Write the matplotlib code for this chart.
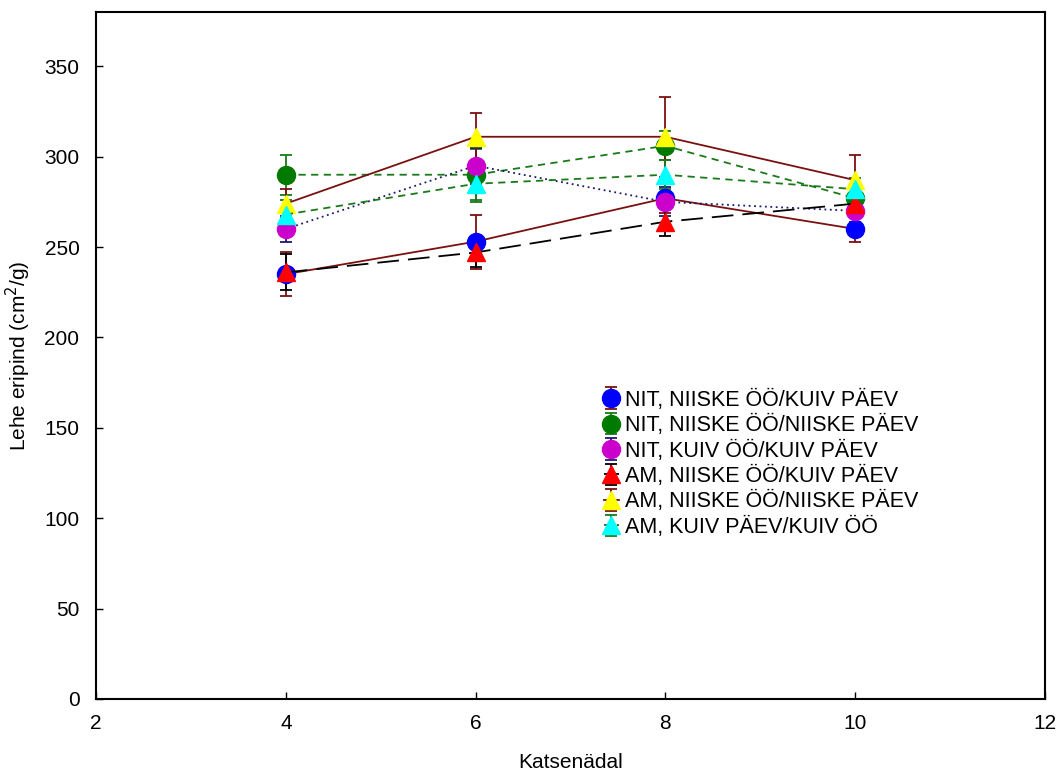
import matplotlib.pyplot as plt

plt.rcParams['font.family'] = ['Liberation Sans', 'DejaVu Sans']

weeks = [4, 6, 8, 10]

labels = ['NIT, NIISKE ÖÖ/KUIV PÄEV',
          'NIT, NIISKE ÖÖ/NIISKE PÄEV',
          'NIT, KUIV ÖÖ/KUIV PÄEV',
          'AM, NIISKE ÖÖ/KUIV PÄEV',
          'AM, NIISKE ÖÖ/NIISKE PÄEV',
          'AM, KUIV PÄEV/KUIV ÖÖ']

nit_niiske_kuiv = [235, 253, 277, 260]
nit_niiske_niiske = [290, 290, 306, 277]
nit_kuiv_kuiv = [260, 295, 275, 270]
am_niiske_kuiv = [236, 247, 264, 274]
am_niiske_niiske = [274, 311, 311, 287]
am_kuiv_kuiv = [268, 285, 290, 282]

err_nit_niiske_kuiv = [12, 15, 8, 7]
err_nit_niiske_niiske = [11, 14, 8, 8]
err_nit_kuiv_kuiv = [7, 10, 8, 6]
err_am_niiske_kuiv = [10, 8, 8, 6]
err_am_niiske_niiske = [8, 13, 22, 14]
err_am_kuiv_kuiv = [8, 10, 8, 6]

series = [nit_niiske_kuiv, nit_niiske_niiske, nit_kuiv_kuiv,
          am_niiske_kuiv, am_niiske_niiske, am_kuiv_kuiv]
errors = [err_nit_niiske_kuiv, err_nit_niiske_niiske, err_nit_kuiv_kuiv,
          err_am_niiske_kuiv, err_am_niiske_niiske, err_am_kuiv_kuiv]

# line colour, style, marker, marker colour
styles = [
    ('#7b1010', '-', 'o', '#0000ff'),
    ('#1a7a1a', (0, (4, 3)), 'o', '#007a00'),
    ('#1a1a6e', (0, (1, 2)), 'o', '#cc00cc'),
    ('#000000', (0, (12, 5)), '^', '#ff0000'),
    ('#7b1010', '-', '^', '#ffff00'),
    ('#1a7a1a', (0, (4, 3)), '^', '#00ffff'),
]

fig = plt.figure(figsize=(10.59, 7.71), dpi=100)
ax = fig.add_axes([0.0907, 0.0934, 0.896, 0.891])

for vals, err, lab, (lc, ls, mk, mc) in zip(series, errors, labels, styles):
    ax.errorbar(weeks, vals, yerr=err, color=lc, linestyle=ls, linewidth=1.3,
                marker=mk, markersize=13, markerfacecolor=mc,
                markeredgecolor=mc, ecolor=lc, elinewidth=1.3,
                capsize=4, capthick=1.3, label=lab)

ax.set_xlim(2, 12)
ax.set_ylim(0, 380)
ax.set_xticks([2, 4, 6, 8, 10, 12])
ax.set_yticks(range(0, 351, 50))
ax.tick_params(direction='in', length=5, labelsize=15, width=1)
ax.tick_params(axis='x', pad=11)
ax.tick_params(axis='y', pad=12)
for s in ax.spines.values():
    s.set_linewidth(1.5)

ax.set_xlabel('Katsenädal', fontsize=15, labelpad=14)
ax.set_ylabel('Lehe eripind (cm$^2$/g)', fontsize=15, labelpad=8)

ax.legend(loc='upper left', bbox_to_anchor=(0.526, 0.463), frameon=False,
          fontsize=15.5, handlelength=0.7, handletextpad=0.3,
          labelspacing=0.2, borderaxespad=0)

fig.savefig('out.png', dpi=100)
